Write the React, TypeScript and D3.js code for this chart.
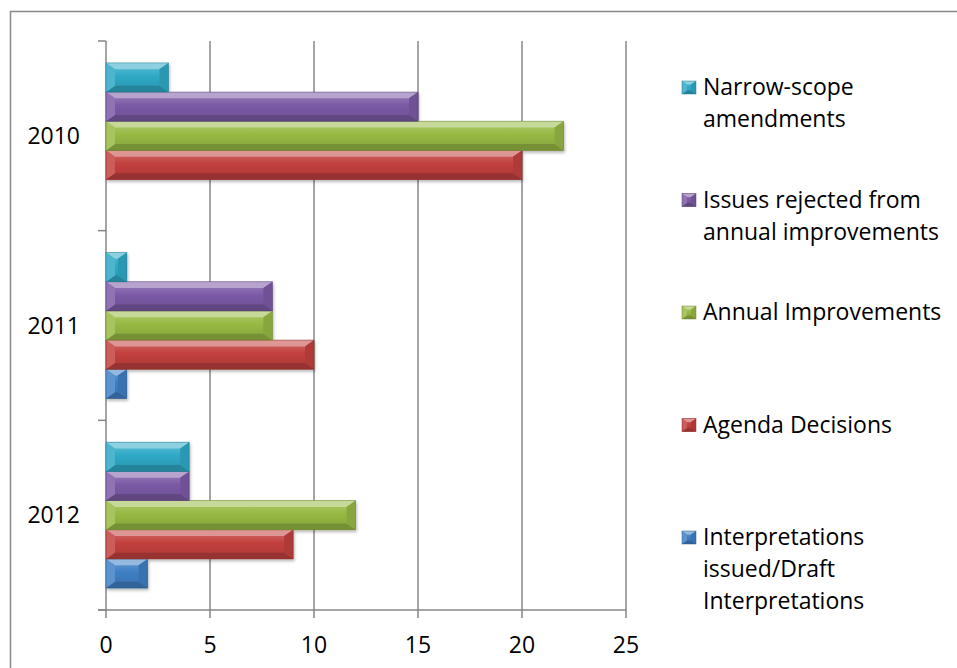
import React, { useRef, useEffect } from 'react';
import * as d3 from 'd3';

// Chart data
const years = ['2010', '2011', '2012'];
const seriesKeys = ['interp', 'agenda', 'annual', 'issues', 'narrow'];
const interpretations = [0, 1, 2];
const agendaDecisions = [20, 10, 9];
const annualImprovements = [22, 8, 12];
const issuesRejected = [15, 8, 4];
const narrowScope = [3, 1, 4];
const seriesColors = ['#3f7fc4', '#c2403d', '#97b943', '#7b5aa6', '#2fa9c6'];
const xTicks = [0, 5, 10, 15, 20, 25];
const legendLabels = [
  ['Narrow-scope', 'amendments'],
  ['Issues rejected from', 'annual improvements'],
  ['Annual Improvements'],
  ['Agenda Decisions'],
  ['Interpretations', 'issued/Draft', 'Interpretations'],
];
const legendOrder = ['narrow', 'issues', 'annual', 'agenda', 'interp'];

const seriesValues: Record<string, number[]> = {
  interp: interpretations,
  agenda: agendaDecisions,
  annual: annualImprovements,
  issues: issuesRejected,
  narrow: narrowScope,
};

const W = 957;
const H = 668;

const App: React.FC = () => {
  const svgRef = useRef<SVGSVGElement | null>(null);

  useEffect(() => {
    if (!svgRef.current) return;
    const svg = d3.select(svgRef.current);
    svg.selectAll('*').remove();

    const plot = { left: 106, right: 626, top: 41, bottom: 610 };
    const gridColor = '#878787';
    const font = '"Open Sans", Lato, sans-serif';
    const fontSize = 23;

    const x = d3.scaleLinear().domain([0, 25]).range([plot.left, plot.right]);
    const y = d3.scaleBand<string>().domain(years).range([plot.top, plot.bottom]);
    // Narrow-scope on top of each group, Interpretations at the bottom
    const inner = d3.scaleBand<string>()
      .domain([...seriesKeys].reverse())
      .range([0, y.bandwidth()])
      .paddingInner(0)
      .paddingOuter(0.75);

    const defs = svg.append('defs');
    const shadow = defs.append('filter').attr('id', 'shadow')
      .attr('x', '-10%').attr('y', '-20%').attr('width', '120%').attr('height', '160%');
    shadow.append('feDropShadow')
      .attr('dx', 1).attr('dy', 2).attr('stdDeviation', 1.8)
      .attr('flood-color', '#000').attr('flood-opacity', 0.28);

    seriesKeys.forEach((k, i) => {
      const base = seriesColors[i];
      const grad = defs.append('linearGradient').attr('id', `grad-${k}`)
        .attr('x1', 0).attr('y1', 0).attr('x2', 0).attr('y2', 1);
      grad.append('stop').attr('offset', '0%').attr('stop-color', d3.interpolateRgb(base, '#fff')(0.25));
      grad.append('stop').attr('offset', '45%').attr('stop-color', base);
      grad.append('stop').attr('offset', '100%').attr('stop-color', d3.color(base)!.darker(0.35).formatHex());
    });

    // Outer frame
    svg.append('rect')
      .attr('x', 10.5).attr('y', 11.5)
      .attr('width', W).attr('height', H)
      .attr('fill', '#fff')
      .attr('stroke', gridColor)
      .attr('stroke-width', 1.5);

    const g = svg.append('g');

    // Vertical gridlines + bottom ticks
    xTicks.forEach((t) => {
      g.append('line')
        .attr('x1', x(t)).attr('x2', x(t))
        .attr('y1', plot.top).attr('y2', plot.bottom + 8)
        .attr('stroke', gridColor).attr('stroke-width', 1.5);
      g.append('text')
        .attr('x', x(t)).attr('y', plot.bottom + 43)
        .attr('text-anchor', 'middle')
        .attr('font-family', font).attr('font-size', fontSize)
        .attr('fill', '#000')
        .text(t);
    });

    // Category axis
    g.append('line')
      .attr('x1', plot.left - 8).attr('x2', plot.right)
      .attr('y1', plot.bottom).attr('y2', plot.bottom)
      .attr('stroke', gridColor).attr('stroke-width', 1.5);
    const yEdges = [...years.map((d) => y(d)!), plot.bottom];
    yEdges.forEach((yy) => {
      g.append('line')
        .attr('x1', plot.left - 8).attr('x2', plot.left)
        .attr('y1', yy).attr('y2', yy)
        .attr('stroke', gridColor).attr('stroke-width', 1.5);
    });
    years.forEach((yr) => {
      g.append('text')
        .attr('x', plot.left - 26)
        .attr('y', y(yr)! + y.bandwidth() / 2 + 8)
        .attr('text-anchor', 'end')
        .attr('font-family', font).attr('font-size', fontSize)
        .attr('fill', '#000')
        .text(yr);
    });

    // Bevelled bar helper
    function bevel(parent: d3.Selection<SVGGElement, unknown, null, undefined>,
      x0: number, y0: number, w: number, h: number, k: string, b: number) {
      if (w <= 0) return;
      const base = seriesColors[seriesKeys.indexOf(k)];
      const x1 = x0 + w;
      const y1 = y0 + h;
      const bx = Math.min(b, w / 2);
      const by = Math.min(b * 0.7, h / 2);
      const light = d3.interpolateRgb(base, '#fff')(0.45);
      const dark = d3.color(base)!.darker(0.7).formatHex();
      const cap = d3.color(base)!.darker(0.3).formatHex();
      const capLight = d3.interpolateRgb(base, '#fff')(0.15);
      const bar = parent.append('g');
      bar.append('rect')
        .attr('x', x0).attr('y', y0).attr('width', w).attr('height', h)
        .attr('fill', `url(#grad-${k})`);
      const poly = (pts: number[][], fill: string) =>
        bar.append('polygon').attr('points', pts.map((p) => p.join(',')).join(' ')).attr('fill', fill);
      poly([[x0, y0], [x1, y0], [x1 - bx, y0 + by], [x0 + bx, y0 + by]], light);
      poly([[x0, y1], [x1, y1], [x1 - bx, y1 - by], [x0 + bx, y1 - by]], dark);
      poly([[x1, y0], [x1, y1], [x1 - bx, y1 - by], [x1 - bx, y0 + by]], cap);
      poly([[x0, y0], [x0, y1], [x0 + bx, y1 - by], [x0 + bx, y0 + by]], capLight);
      bar.append('rect')
        .attr('x', x0).attr('y', y0).attr('width', w).attr('height', h)
        .attr('fill', 'none')
        .attr('stroke', d3.color(base)!.darker(1).formatHex())
        .attr('stroke-opacity', 0.6)
        .attr('stroke-width', 0.8);
      return bar;
    }

    // Bars
    const bars = g.append('g').attr('filter', 'url(#shadow)');
    years.forEach((yr, yi) => {
      seriesKeys.forEach((k) => {
        const v = seriesValues[k][yi];
        bevel(bars, x(0), y(yr)! + inner(k)!, x(v) - x(0), inner.bandwidth(), k, 9);
      });
    });

    // Legend
    const legend = g.append('g');
    const legendTop = 95;
    const legendStep = 112.5;
    const lineH = 32;
    legendOrder.forEach((k, i) => {
      const base = legendTop + i * legendStep;
      bevel(legend, 682, base - 14, 14, 13, k, 5);
      legendLabels[i].forEach((line, li) => {
        legend.append('text')
          .attr('x', 703)
          .attr('y', base + li * lineH)
          .attr('font-family', font).attr('font-size', fontSize)
          .attr('fill', '#000')
          .text(line);
      });
    });
  }, []);

  return (
    <svg ref={svgRef} width={W} height={H}
      style={{ position: 'absolute', left: 0, top: 0, display: 'block' }} />
  );
};

export default App;
